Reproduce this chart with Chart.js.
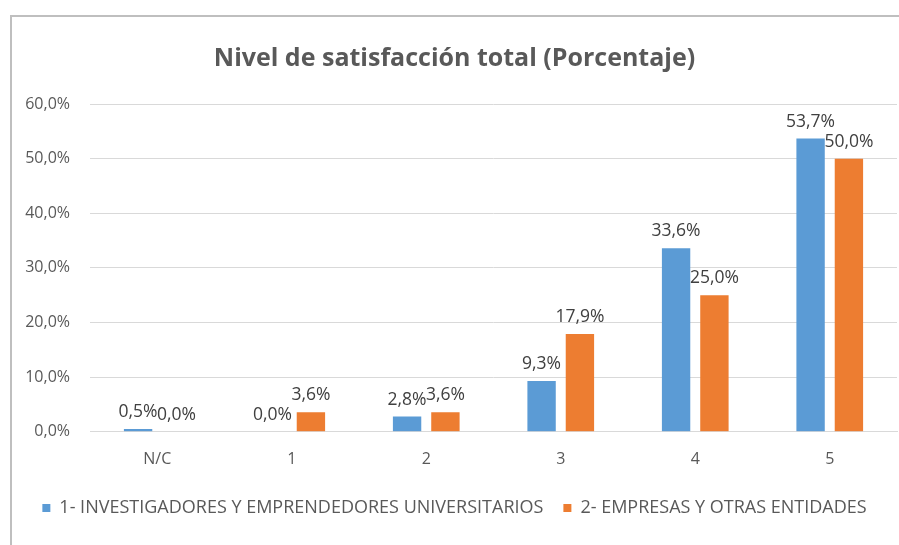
<!DOCTYPE html>
<html>
<head>
<meta charset="utf-8">
<script src="https://cdn.jsdelivr.net/npm/chart.js@4/dist/chart.umd.min.js"></script>
<style>
  body { margin: 0; background: #fff; overflow: hidden; }
  #box { position: absolute; left: 10px; top: 15px; width: 889px; height: 530px;
         border-top: 2px solid #bfbfbf; border-left: 2px solid #bfbfbf; }
  #chart { display: block; }
</style>
</head>
<body>
<div id="box"><canvas id="chart" width="887" height="528"></canvas></div>
<script>
const categories = ["N/C", "1", "2", "3", "4", "5"];
const investigadores = [0.5, 0.0, 2.8, 9.3, 33.6, 53.7];
const empresas = [0.0, 3.6, 3.6, 17.9, 25.0, 50.0];
const yTicks = [0, 10, 20, 30, 40, 50, 60];

const fmt = v => v.toFixed(1).replace(".", ",") + "%";

// draws value labels above each bar
const barLabels = {
  id: "barLabels",
  afterDatasetsDraw(chart) {
    const ctx = chart.ctx;
    ctx.save();
    ctx.font = "17.5px 'Open Sans'";
    ctx.fillStyle = "#404040";
    ctx.textAlign = "center";
    ctx.textBaseline = "bottom";
    chart.data.datasets.forEach((ds, i) => {
      chart.getDatasetMeta(i).data.forEach((bar, j) => {
        ctx.fillText(fmt(ds.data[j]), bar.x, bar.y - 8);
      });
    });
    ctx.restore();
  }
};

chart = new Chart(document.getElementById("chart"), {
  type: "bar",
  data: {
    labels: categories,
    datasets: [{
      label: "1- INVESTIGADORES Y EMPRENDEDORES UNIVERSITARIOS",
      data: investigadores,
      backgroundColor: "#5b9bd5"
    }, {
      label: "2- EMPRESAS Y OTRAS ENTIDADES",
      data: empresas,
      backgroundColor: "#ed7d31"
    }]
  },
  options: {
    responsive: false,
    animation: false,
    layout: { padding: { left: 0, right: 2, top: 10, bottom: 18 } },
    datasets: { bar: { categoryPercentage: 0.57, barPercentage: 0.74 } },
    plugins: {
      title: {
        display: true,
        text: "Nivel de satisfacción total (Porcentaje)",
        color: "#595959",
        font: { family: "'Open Sans'", size: 25, weight: "bold" },
        padding: { top: 17, bottom: 30 }
      },
      legend: {
        position: "bottom",
        labels: {
          color: "#595959",
          font: { family: "'Open Sans'", size: 18 },
          boxWidth: 8, boxHeight: 8,
          padding: 20
        }
      },
      tooltip: { enabled: false }
    },
    scales: {
      x: {
        grid: { display: false },
        border: { color: "#d9d9d9" },
        ticks: { color: "#595959", font: { family: "'Open Sans'", size: 16 }, padding: 10 }
      },
      y: {
        min: 0, max: 60,
        afterBuildTicks: axis => { axis.ticks = yTicks.map(v => ({ value: v })); },
        afterFit: axis => { axis.width = 78; },
        grid: { color: "#d9d9d9", drawTicks: false },
        border: { display: false },
        ticks: { color: "#595959", font: { family: "'Open Sans'", size: 16 }, padding: 20,
                 callback: v => fmt(v) }
      }
    }
  },
  plugins: [barLabels]
});
</script>
</body>
</html>
